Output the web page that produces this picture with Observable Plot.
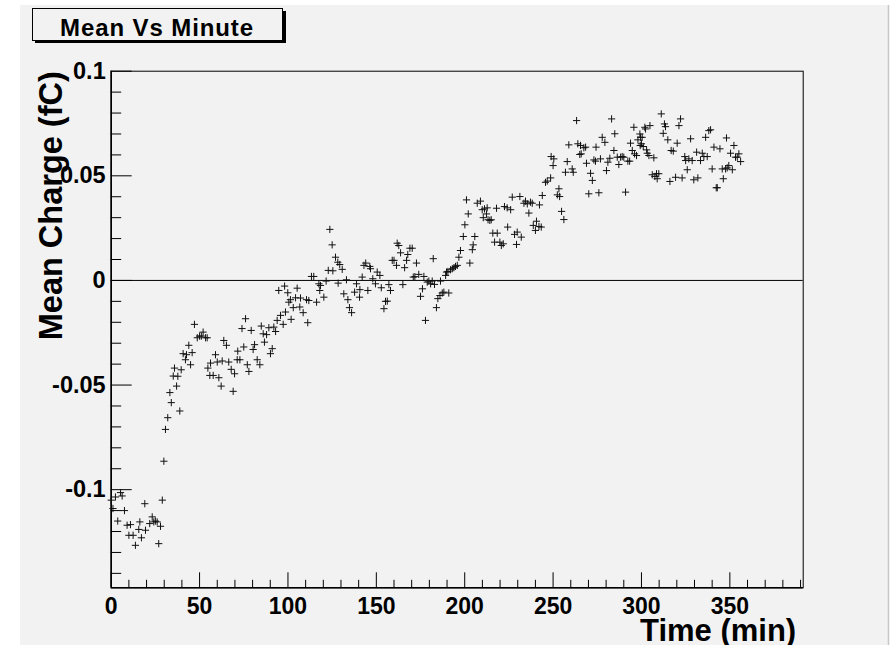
<!DOCTYPE html>
<html><head><meta charset="utf-8">
<script src="https://cdn.jsdelivr.net/npm/d3@7"></script>
<script src="https://cdn.jsdelivr.net/npm/@observablehq/plot@0.6"></script>
<style>
html,body{margin:0;padding:0;background:#fff;}
#wrap{position:relative;width:894px;height:645px;overflow:hidden;}
</style></head><body><div id="wrap"></div>
<script>
const title = "Mean Vs Minute";
const xLabel = "Time (min)";
const yLabel = "Mean Charge (fC)";
const xDomain = [0, 391.5];
const yDomain = [-0.1469, 0.1];
const xTicks = [0, 50, 100, 150, 200, 250, 300, 350];
const yTicks = [-0.1, -0.05, 0, 0.05, 0.1];
const yTickLabels = ["-0.1", "-0.05", "0", "0.05", "0.1"];

const time = [0,1,2.4,3.7,5.3,6.2,7.5,9,10,10.9,12.4,13.7,15.6,16.2,17.1,19,19.4,21.8,23.2,24.1,25,26,26.9,27.9,28.9,
29.8,30.7,32,33.2,34,35.1,35.8,37,37.7,38.8,39.6,40.7,42,42.6,43.9,44.9,45.8,47.1,48.7,50,51,52,53.4,54.3,54.7,55.8,56.2,57.7,59,60,60.9,62.2,62.8,63.7,65.2,66.5,67.9,69,69.8,71.3,71.6,72.8,74,75,76,77,77.9,79.2,80.3,81.1,82.6,84.1,84.9,86,86.7,87.9,89.2,90.1,91.1,92,93,93.9,94.8,95.8,97.3,98.1,98.6,99.9,
100.5,101.4,101.8,103,104.3,105.2,106.7,107.1,108.6,110.5,111.2,111.8,113.3,114.6,116.2,117.5,118,118.4,120.3,121.6,122.8,123.7,125,125.4,126.9,128.2,128.4,129.3,130.7,131.6,133.1,133.9,134.8,136,137.7,138.8,140.5,140.7,142,143,144,145.2,146.3,146.7,148,149.5,150.5,152,152.8,154.3,155.2,156.2,157.1,158,159,160,161.4,161.8,162.7,163.7,165,166,167.1,167.8,169,170.3,170.9,171.8,172.7,174,175,176.1,176.9,177.8,178.8,179.7,180.7,181.6,182.2,182.9,184,184.8,186,186.3,187.3,188.2,189.2,189.7,190.5,191,192,193,193.9,194.8,195.8,196.7,197.6,199.2,
200.1,201,202,202.9,204.3,204.8,205.7,207.1,208.9,209.9,210.5,211.2,212.3,212.7,213.2,214.2,215,215.9,216.9,218,218.4,219.9,220.7,221.8,222.5,224,224.3,226,226.9,228.2,229.3,229.7,231.2,232,233.5,234.4,235.4,236.3,237.2,238.2,238.8,240,240.6,242,242.3,243.3,243.9,245.7,246.7,248.6,248.9,250,250.4,252.4,253.3,253.7,254.8,256.1,257,258,258.9,260.8,261.4,263.3,264,265.1,265.5,265.9,267.4,268.4,268.9,270.2,271.2,272.2,273.1,274,274.3,275.9,276.8,277.8,279.3,280.2,281,282.1,283.1,284.4,284.9,286.3,287.2,288.2,289.1,290,291,292.3,293.3,293.8,294.8,295.7,296.1,297.2,298,299.1,299.3,299.5,300,300.4,301,301.9,302.3,302.9,303.3,304.2,304.8,306.1,307,307.6,308.5,308.9,309.8,311.2,312.3,313,313.6,314.9,316.1,316.8,318,319.3,320.2,321.2,322.1,323,324.5,325,325.9,326.8,327.8,328.7,329.6,331.2,331.9,333.4,334.4,335.3,336.3,337.2,338.1,339.1,340,341,342.3,342.9,344.4,345.7,346.3,347.6,348.1,348.5,349.4,350.4,351.4,352.3,353.2,354.2,355.1,356.1];

const meanCharge = [-0.105,-0.109,-0.1035,-0.115,-0.1014,-0.103,-0.110,-0.117,-0.1218,-0.1167,-0.1218,-0.1266,-0.119,-0.1154,-0.123,-0.1067,-0.1194,-0.1162,-0.113,-0.1154,-0.115,-0.1154,-0.1258,-0.1175,-0.105,
-0.0864,-0.0712,-0.0656,-0.0536,-0.0584,-0.0457,-0.0419,-0.0505,-0.0458,-0.0624,-0.0427,-0.035,-0.0379,-0.0355,-0.031,-0.0403,-0.0345,-0.021,-0.0274,-0.0266,-0.0266,-0.0247,-0.0274,-0.0274,-0.0419,-0.0454,-0.0395,-0.0454,-0.0355,-0.039,-0.0465,-0.0505,-0.0385,-0.0287,-0.031,-0.039,-0.0425,-0.053,-0.0446,-0.0379,-0.0338,-0.0379,-0.023,-0.0318,-0.0183,-0.0403,-0.0435,-0.0239,-0.033,-0.0307,-0.0379,-0.0403,-0.0218,-0.0255,-0.0295,-0.0259,-0.0226,-0.035,-0.0326,-0.0223,-0.0244,-0.0191,-0.0048,-0.0167,-0.021,-0.0027,-0.0151,-0.0059,
-0.0104,-0.0092,-0.0186,-0.013,-0.0083,-0.0037,-0.0127,-0.0084,-0.0154,-0.0092,-0.0202,-0.0096,0.0019,0.0019,-0.0104,-0.0016,-0.0048,-0.0024,-0.008,-0.0003,0.0048,0.0244,0.017,0.0046,0.0111,0.0087,-0.0013,0.0076,0.0053,-0.0064,0.0003,-0.0092,-0.013,-0.0154,-0.0056,-0.0016,-0.008,-0.0044,0.0016,0.0072,0.0083,-0.0048,0.0067,0.0056,0.0008,-0.0016,0.004,0.0024,-0.0035,-0.0135,-0.01,-0.0099,-0.002,-0.0048,0.0096,0.0096,0.0072,0.0178,0.0167,0.0132,-0.002,0.0061,0.0096,0.0124,0.0154,0.0154,0.0016,0.0018,0.0083,0.0029,-0.0076,-0.004,0.0019,-0.0191,-0.0008,-0.0003,-0.0016,-0.0003,0.0104,-0.0019,-0.013,-0.0087,-0.0072,-0.0003,-0.006,-0.0056,0.0024,0.004,0.0043,-0.006,0.0051,0.0056,0.0061,0.0067,0.0072,0.0111,0.0143,0.021,
0.0266,0.0385,0.0318,0.0083,0.0147,0.017,0.021,0.0369,0.0379,0.0338,0.03,0.0342,0.0318,0.0347,0.029,0.0287,0.029,0.0226,0.0183,0.0345,0.0226,0.0183,0.0167,0.0175,0.0353,0.0347,0.0255,0.0338,0.0398,0.022,0.0172,0.0231,0.0401,0.0207,0.0369,0.0379,0.0366,0.0322,0.0374,0.0369,0.0263,0.0239,0.0283,0.0258,0.0361,0.0255,0.0406,0.0469,0.0475,0.049,0.0592,0.0549,0.0581,0.0409,0.0438,0.0401,0.033,0.0291,0.0517,0.0568,0.0648,0.0533,0.0517,0.0764,0.0653,0.0602,0.0645,0.0605,0.0634,0.0637,0.056,0.0414,0.0512,0.0478,0.0576,0.057,0.0637,0.0419,0.0581,0.0684,0.066,0.0525,0.0565,0.0584,0.0772,0.0621,0.0701,0.0589,0.0554,0.0589,0.0592,0.0589,0.0422,0.057,0.057,0.0656,0.0621,0.0732,0.0605,0.0597,0.0672,0.07,0.0645,0.0684,0.0653,0.0684,0.064,0.0732,0.0724,0.0624,0.0608,0.0597,0.074,0.0505,0.0586,0.0497,0.051,0.0486,0.051,0.0796,0.0703,0.0748,0.0735,0.0672,0.0473,0.0621,0.0618,0.0493,0.0656,0.074,0.0772,0.049,0.0592,0.0573,0.0529,0.0581,0.0677,0.0573,0.0481,0.0613,0.049,0.0573,0.0608,0.0592,0.0684,0.0592,0.0716,0.072,0.0533,0.0637,0.0443,0.0443,0.0629,0.0533,0.0486,0.0533,0.0681,0.0538,0.0549,0.0608,0.0529,0.0645,0.0589,0.0589,0.0605,0.0568];

const points = time.map((t, i) => ({t, v: meanCharge[i]}));
const xMinor = d3.range(10, 391, 10).filter(d => d % 50 !== 0);
const yMinor = d3.range(-14, 10, 1).map(d => d / 100).filter(d => Math.round(d * 100) % 5 !== 0);

const W = 894, H = 645;
const mL = 110.7, mR = 91.3, mT = 70.7, mB = 57.7;
const plotW = W - mL - mR, plotH = H - mT - mB;
const font = "'Liberation Sans', Arial, Helvetica, sans-serif";

const plusSymbol = {draw(ctx) { const r = 3.6; ctx.moveTo(-r, 0); ctx.lineTo(r, 0); ctx.moveTo(0, -r); ctx.lineTo(0, r); }};

const chart = Plot.plot({
  width: W, height: H,
  marginLeft: mL, marginRight: mR, marginTop: mT, marginBottom: mB,
  style: {fontFamily: font, background: "transparent", color: "black"},
  x: {domain: xDomain, label: null},
  y: {domain: yDomain, label: null},
  marks: [
    Plot.axisX(xTicks, {tickSize: 0, tickPadding: 10, fontSize: 23, fontWeight: "bold", tickFormat: d => String(d), label: null}),
    Plot.axisY(yTicks, {tickSize: 0, tickPadding: 5.5, fontSize: 23.5, fontWeight: "bold", tickFormat: d => yTickLabels[yTicks.indexOf(d)], label: null}),
    Plot.tickX(xTicks, {x: d => d, insetTop: plotH - 15, stroke: "black", strokeWidth: 1}),
    Plot.tickX(xMinor, {x: d => d, insetTop: plotH - 7.5, stroke: "black", strokeWidth: 1}),
    Plot.tickY(yTicks, {y: d => d, insetRight: plotW - 21, stroke: "black", strokeWidth: 1}),
    Plot.tickY(yMinor, {y: d => d, insetRight: plotW - 10.5, stroke: "black", strokeWidth: 1}),
    Plot.ruleY([0], {stroke: "black", strokeWidth: 1}),
    Plot.frame({stroke: "black", strokeWidth: 1}),
    Plot.ruleX([xDomain[0]], {stroke: "black", strokeWidth: 1.6}),
    Plot.ruleY([yDomain[0]], {stroke: "black", strokeWidth: 1.6}),
    Plot.dot(points, {x: "t", y: "v", symbol: plusSymbol, stroke: "#111", strokeWidth: 1, fill: "none"}),
    Plot.text([xLabel], {frameAnchor: "bottom-right", dx: -7, dy: 53, textAnchor: "end", lineAnchor: "bottom", fontSize: 31, fontWeight: "bold"}),
    Plot.text([yLabel], {frameAnchor: "top-left", dx: -49, dy: 0, rotate: -90, textAnchor: "end", lineAnchor: "bottom", fontSize: 32.5, fontWeight: "bold"})
  ]
});

const svg = d3.select(chart);
svg.style("position", "absolute").style("left", "0px").style("top", "0px");
// canvas background
const first = chart.firstChild && chart.firstChild.nextSibling ? chart.firstChild.nextSibling : null;
const bg = svg.insert("g", () => first);
bg.append("rect").attr("x", 20).attr("y", 5).attr("width", 868).attr("height", 640).attr("fill", "#f2f2f2");
bg.append("line").attr("x1", 888.5).attr("x2", 888.5).attr("y1", 5).attr("y2", 645).attr("stroke", "#c8c8c8").attr("stroke-width", 1.5);
// title box with shadow
const tb = svg.append("g");
tb.append("rect").attr("x", 35).attr("y", 11).attr("width", 251).attr("height", 32).attr("fill", "black");
tb.append("rect").attr("x", 32.5).attr("y", 8.5).attr("width", 250).attr("height", 32).attr("fill", "#f2f2f2").attr("stroke", "black").attr("stroke-width", 1);
tb.append("text").attr("x", 157).attr("y", 36).attr("text-anchor", "middle")
  .attr("font-family", font).attr("font-weight", "bold").attr("font-size", 24).attr("letter-spacing", 0.9)
  .attr("fill", "black").text(title);

document.getElementById("wrap").appendChild(chart);
</script></body></html>
